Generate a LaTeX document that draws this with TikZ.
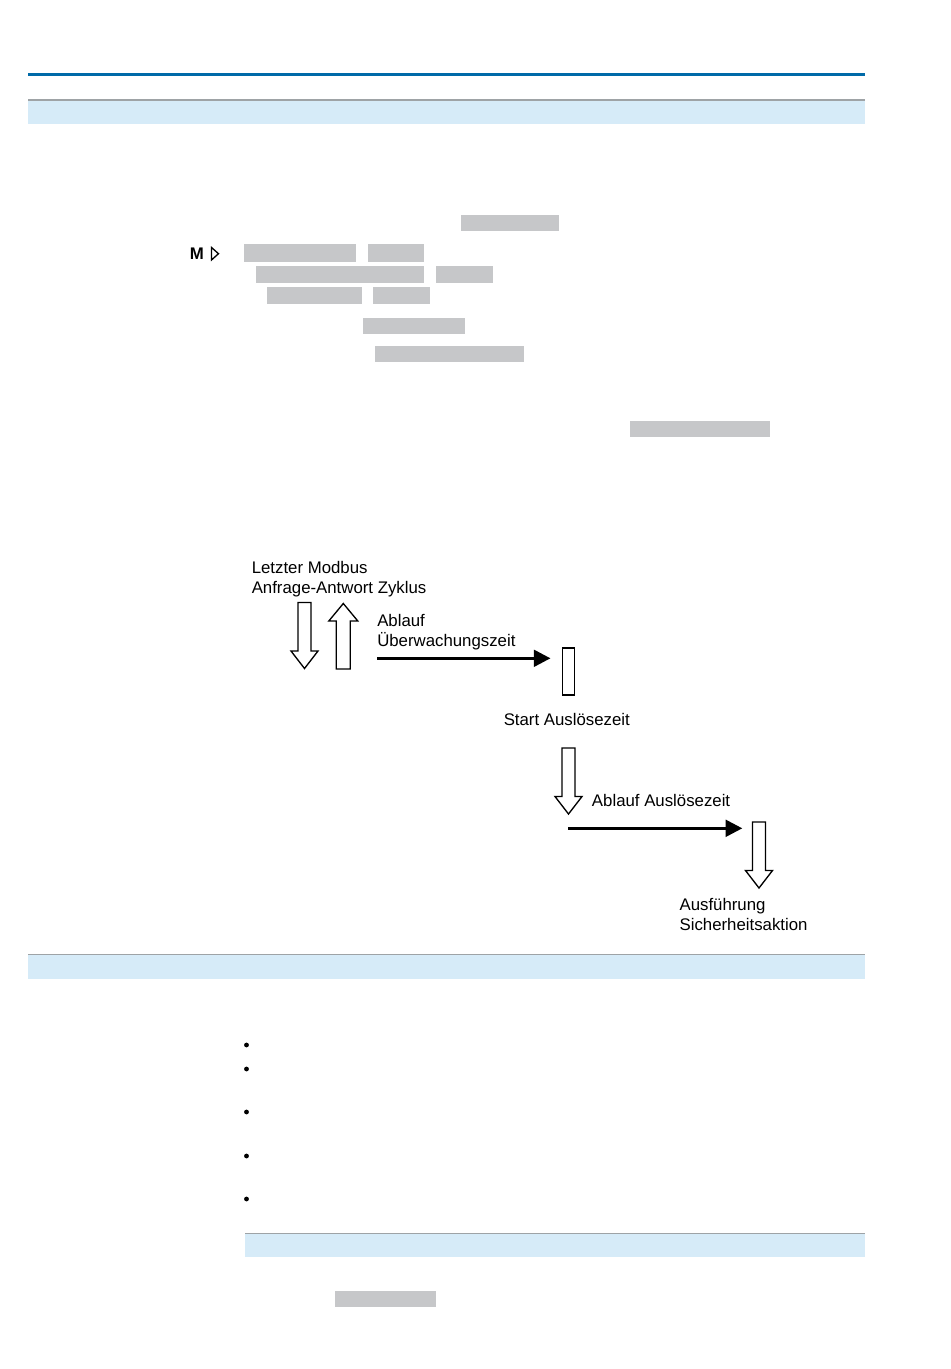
\documentclass[tikz,border=0pt]{standalone}
\usepackage{fontspec}
\setmainfont{Liberation Sans}
\usepackage{tikz}
\usetikzlibrary{arrows.meta}

\definecolor{headblue}{RGB}{0,106,168}
\definecolor{bandblue}{RGB}{214,235,248}
\definecolor{rulegray}{RGB}{158,163,166}
\definecolor{boxgray}{RGB}{198,199,201}

\begin{document}
\begin{tikzpicture}[x=0.75pt,y=0.75pt,yscale=-1,xscale=1,
  every node/.style={inner sep=0pt, font=\fontsize{12.6}{15}\selectfont},
  label text/.style={anchor=base west, align=left},
  blank/.style={fill=boxgray},
  band/.style={fill=bandblue},
  bandrule/.style={draw=rulegray, line width=1.1pt},
  hollow/.style={line width=1pt, fill=white},
  timearrow/.style={line width=2.25pt, -{Triangle[length=12.5pt,width=12.5pt]}}]
\useasboundingbox (0,0) rectangle (950,1369);

%Header line
\fill[headblue] (28,73) rectangle (865,76.5);
%Bands
\fill[band] (28,100.5) rectangle (865,123.7);
\draw[bandrule] (28,100) -- (865,100);
\fill[band] (28,954.7) rectangle (865,978.7);
\draw[bandrule] (28,954.3) -- (865,954.3);
\fill[band] (245,1233.7) rectangle (865,1256.7);
\draw[bandrule] (245,1233.3) -- (865,1233.3);

%Grey text blocks
\fill[blank] (461,215) rectangle (559,231);
\fill[blank] (244,244) rectangle (356,261.7);
\fill[blank] (367.7,244) rectangle (424.3,261.7);
\fill[blank] (255.7,266) rectangle (424.3,282.7);
\fill[blank] (436,266) rectangle (492.7,282.7);
\fill[blank] (266.7,287.3) rectangle (361.7,304.3);
\fill[blank] (373.3,287.3) rectangle (430,304.3);
\fill[blank] (362.7,317.7) rectangle (464.7,333.7);
\fill[blank] (375,346) rectangle (524,362);
\fill[blank] (630,421) rectangle (770,437);
\fill[blank] (335,1291) rectangle (436,1307.3);

%Menu sign
\node[anchor=base west, font=\fontsize{12.6}{15}\selectfont\bfseries] (menu) at (189.5,260) {M};
\draw[line width=1pt] (211.5,247.5) -- (218.5,253.7) -- (211.5,260) -- cycle;

%Hollow Arrows
\coordinate (req) at (304.5,602.5);
\draw[hollow] (req) ++(-6.5,0) -- ++(13,0) -- ++(0,48.5) -- ++(7,0) -- ++(-13.5,17.5) -- ++(-13.5,-17.5) -- ++(7,0) -- cycle;
\coordinate (resp) at (343.3,669);
\draw[hollow] (resp) ++(-7,0) -- ++(14,0) -- ++(0,-48) -- ++(7.5,0) -- ++(-14.5,-17.5) -- ++(-14.5,17.5) -- ++(7.5,0) -- cycle;
\coordinate (trigger) at (568.5,748);
\draw[hollow] (trigger) ++(-6.5,0) -- ++(13,0) -- ++(0,48.5) -- ++(7,0) -- ++(-13.5,17.5) -- ++(-13.5,-17.5) -- ++(7,0) -- cycle;
\coordinate (action) at (759,822);
\draw[hollow] (action) ++(-6.5,0) -- ++(13,0) -- ++(0,48.5) -- ++(7,0) -- ++(-13.5,17.5) -- ++(-13.5,-17.5) -- ++(7,0) -- cycle;

%Start of trip time
\node[draw, line width=1pt, minimum width=9.2pt, minimum height=35.4pt] (trip) at (568.3,671.5) {};

%Time Arrows
\coordinate (wd) at (377,658.3);
\coordinate (wdend) at (550.5,658.3);
\draw[timearrow] (wd) -- (wdend);
\coordinate (trp) at (568.3,828.3);
\coordinate (trpend) at (742.3,828.3);
\draw[timearrow] (trp) -- (trpend);

% Text Node
\node[label text] (lastcycle) at (251.5,593.5) {Letzter Modbus\\Anfrage-Antwort Zyklus};
% Text Node
\node[label text] (wdlabel) at (377,646.7) {Ablauf\\Überwachungszeit};
% Text Node
\node[label text] (startlabel) at (503.5,725) {Start Auslösezeit};
% Text Node
\node[label text] (trplabel) at (591.7,806.7) {Ablauf Auslösezeit};
% Text Node
\node[label text] (actlabel) at (679.3,930) {Ausführung\\Sicherheitsaktion};

%Bullets
\fill (246.5,1045) circle (2.4);
\fill (246.5,1069) circle (2.4);
\fill (246.5,1112) circle (2.4);
\fill (246.5,1156) circle (2.4);
\fill (246.5,1199) circle (2.4);

\end{tikzpicture}
\end{document}
